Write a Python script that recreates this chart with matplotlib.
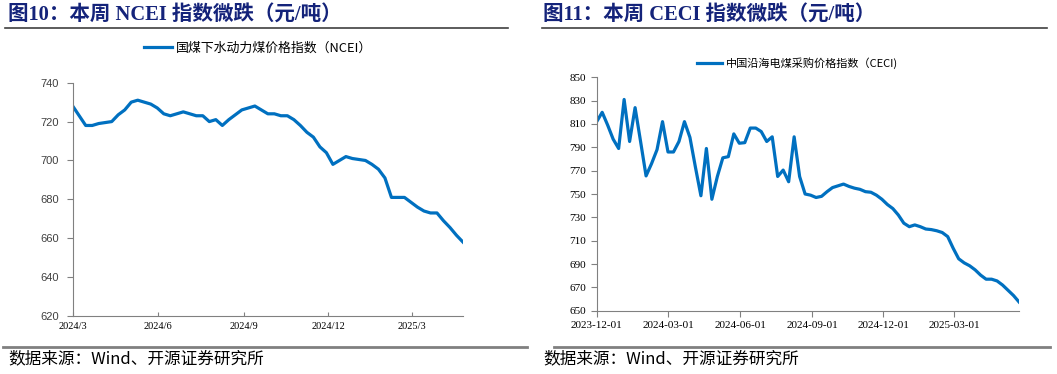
import matplotlib.pyplot as plt
import matplotlib.dates as mdates
import pandas as pd
from matplotlib.lines import Line2D

# NCEI weekly values, starting 2024-03-01
ncei_start = "2024-03-01"
ncei_values = [728, 723, 718, 718, 719, 719.5, 720, 723.5, 726, 730,
               731, 730, 729, 727, 724, 723, 724, 725, 724, 723,
               723, 720, 721, 718, 721, 723.5, 726, 727, 728, 726,
               724, 724, 723, 723, 721, 718, 714.5, 712, 707, 704,
               698, 700, 702, 701, 700.5, 700, 698, 695.5, 691, 681,
               681, 681, 678.5, 676, 674, 673, 673, 669, 665.5, 661.5,
               658]
ncei_ticks = ["2024-03-01", "2024-06-01", "2024-09-01", "2024-12-01", "2025-03-01"]
ncei_ticklabels = ["2024/3", "2024/6", "2024/9", "2024/12", "2025/3"]

# CECI weekly values, starting 2023-12-01
ceci_start = "2023-12-01"
ceci_values = [812, 820, 809, 797, 789, 831, 795, 824, 795, 765.5,
               776, 788, 812, 786, 786, 795, 812, 798.5, 773, 748.5,
               789, 745.5, 765, 781, 782, 801.5, 793.5, 794, 806.5, 806.5,
               803.5, 795, 799, 765, 770.5, 760.5, 799, 765, 750, 749,
               747, 748, 752, 755.5, 757, 758.5, 756.5, 755, 754, 752,
               751.5, 749, 745.5, 741, 737.5, 732, 725, 722, 723.5, 722,
               720, 719.5, 718.5, 717, 713.5, 703.5, 694.5, 691, 688.5, 685,
               680.5, 677, 677, 675.5, 672, 667.5, 663, 657.5]
ceci_ticks = ["2023-12-01", "2024-03-01", "2024-06-01", "2024-09-01",
              "2024-12-01", "2025-03-01"]

LINE = "#0070C0"
NAVY = "#14237a"
GREY = "#808080"
CJK = "Noto Sans CJK SC"
W, H = 1057, 374

fig = plt.figure(figsize=(10.57, 3.74), dpi=100)

# headers
for x, title in [(8, "图10：本周 NCEI 指数微跌（元/吨）"),
                 (543, "图11：本周 CECI 指数微跌（元/吨）")]:
    fig.text(x / W, 1 - 15 / H, title, color=NAVY, fontsize=14.8,
             fontweight="bold", va="center", family=["Liberation Serif", CJK])
for x0, x1 in [(5, 508), (542, 1047)]:
    fig.add_artist(Line2D([x0 / W, x1 / W], [1 - 28 / H] * 2,
                          color="#404040", lw=1.2))

# footers
for x0, x1 in [(3, 527), (554, 1050)]:
    fig.add_artist(Line2D([x0 / W, x1 / W], [1 - 347 / H] * 2,
                          color=GREY, lw=2))
for x in [8, 543]:
    fig.text(x / W, 1 - 359 / H, "数据来源：Wind、开源证券研究所", fontsize=12,
             va="center", family=[CJK])

# left chart: NCEI
ax = fig.add_axes([72.7 / W, 1 - 316 / H, 390.3 / W, 233.3 / H])
d1 = pd.date_range(ncei_start, periods=len(ncei_values), freq="7D")
ax.plot(d1, ncei_values, color=LINE, lw=2.3, label="国煤下水动力煤价格指数（NCEI）")
ax.set_ylim(620, 740)
ax.set_yticks(range(620, 741, 20))
ax.set_xlim(d1[0], d1[-1])
ax.set_xticks(pd.to_datetime(ncei_ticks))
ax.set_xticklabels(ncei_ticklabels, family="Liberation Serif", fontsize=7.5)
ax.tick_params(axis="x", direction="in", length=3, color=GREY, pad=4)
ax.tick_params(axis="y", direction="out", length=4, color=GREY, labelsize=8, pad=6)
for lab in ax.get_yticklabels():
    lab.set_family("Liberation Sans")
    lab.set_color("#404040")
for s in ["top", "right"]:
    ax.spines[s].set_visible(False)
for s in ["left", "bottom"]:
    ax.spines[s].set_color(GREY)
leg = ax.legend(loc="center", frameon=False, prop={"family": CJK, "size": 9.3},
                handlelength=2.2, handletextpad=0.3)
leg.set_bbox_to_anchor((0.475, (316 - 48) / 233.3), transform=ax.transAxes)

# right chart: CECI
ax2 = fig.add_axes([596.7 / W, 1 - 310.7 / H, 422.3 / W, 233.4 / H])
d2 = pd.date_range(ceci_start, periods=len(ceci_values), freq="7D")
ax2.plot(d2, ceci_values, color=LINE, lw=2.3, label="中国沿海电煤采购价格指数（CECI)")
ax2.set_ylim(650, 850)
ax2.set_yticks(range(650, 851, 20))
ax2.set_xlim(d2[0], d2[-1])
ax2.set_xticks(pd.to_datetime(ceci_ticks))
ax2.xaxis.set_major_formatter(mdates.DateFormatter("%Y-%m-%d"))
ax2.tick_params(axis="both", direction="out", length=4, color=GREY, labelsize=8)
for lab in ax2.get_xticklabels() + ax2.get_yticklabels():
    lab.set_family("Liberation Serif")
for s in ["top", "right"]:
    ax2.spines[s].set_visible(False)
for s in ["left", "bottom"]:
    ax2.spines[s].set_color(GREY)
leg2 = ax2.legend(loc="center", frameon=False, prop={"family": CJK, "size": 8},
                  handlelength=2.3, handletextpad=0.3)
leg2.set_bbox_to_anchor((0.475, (310.7 - 63) / 233.4), transform=ax2.transAxes)

fig.savefig("out.png", dpi=100)
